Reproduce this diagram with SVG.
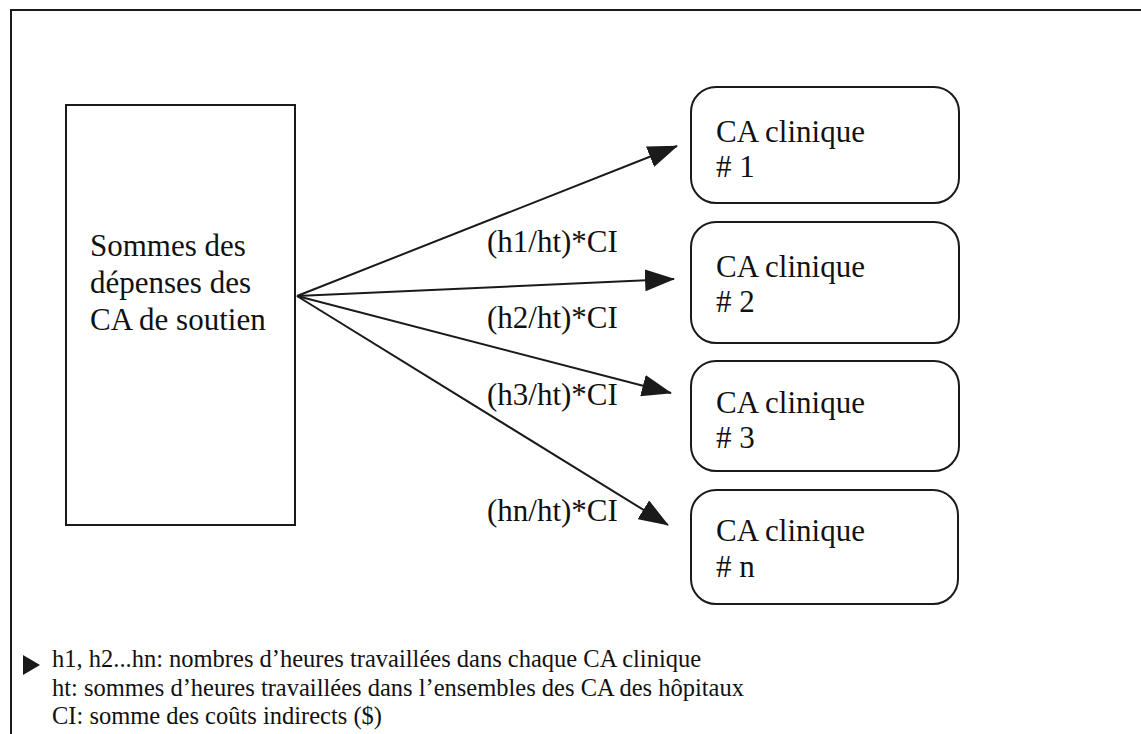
<svg xmlns="http://www.w3.org/2000/svg" width="1141" height="734" viewBox="0 0 1141 734">
  <style>
    text { font-family: "Liberation Serif", "DejaVu Serif", "Times New Roman", serif; fill: #111; }
    .big { font-size: 31px; }
    .legend { font-size: 24.5px; }
    .box { fill: #fff; stroke: #1a1a1a; stroke-width: 2; }
    .edge { fill: none; stroke: #1a1a1a; stroke-width: 2; marker-end: url(#head); }
  </style>
  <defs>
    <marker id="head" viewBox="0 0 30 22" refX="29" refY="11" markerWidth="30" markerHeight="22" markerUnits="userSpaceOnUse" orient="auto">
      <path d="M0,0 L30,11 L0,22 Z" fill="#1a1a1a"/>
    </marker>
  </defs>

  <rect width="1141" height="734" fill="#fff"/>

  <!-- page frame -->
  <path d="M11,740 V10 H1145" fill="none" stroke="#1a1a1a" stroke-width="2"/>

  <g font-family="Liberation Serif, DejaVu Serif, serif">
    <!-- source cost centre -->
    <g id="source">
      <rect class="box" x="66" y="105" width="229" height="420"/>
      <text class="big" x="90" y="256">Sommes des</text>
      <text class="big" x="90" y="293">dépenses des</text>
      <text class="big" x="90" y="330">CA de soutien</text>
    </g>

    <!-- clinical cost centres -->
    <g id="clinique1">
      <rect class="box" x="691" y="87" width="268" height="116" rx="25"/>
      <text class="big" x="716" y="142">CA clinique</text>
      <text class="big" x="716" y="177"># 1</text>
    </g>
    <g id="clinique2">
      <rect class="box" x="691" y="222" width="268" height="121" rx="25"/>
      <text class="big" x="716" y="277">CA clinique</text>
      <text class="big" x="716" y="312"># 2</text>
    </g>
    <g id="clinique3">
      <rect class="box" x="691" y="361" width="268" height="110" rx="25"/>
      <text class="big" x="716" y="413">CA clinique</text>
      <text class="big" x="716" y="448"># 3</text>
    </g>
    <g id="cliniqueN">
      <rect class="box" x="691" y="490" width="267" height="114" rx="25"/>
      <text class="big" x="716" y="541">CA clinique</text>
      <text class="big" x="716" y="577"># n</text>
    </g>

    <!-- allocation arrows -->
    <g id="connectors">
      <line class="edge" x1="297" y1="296" x2="677" y2="146"/>
      <line class="edge" x1="297" y1="296" x2="674" y2="279"/>
      <line class="edge" x1="297" y1="296" x2="671" y2="393"/>
      <line class="edge" x1="297" y1="296" x2="668" y2="525"/>
    </g>

    <!-- allocation ratios -->
    <g id="labels">
      <text class="big" x="487" y="252">(h1/ht)*CI</text>
      <text class="big" x="487" y="328">(h2/ht)*CI</text>
      <text class="big" x="487" y="405">(h3/ht)*CI</text>
      <text class="big" x="487" y="521">(hn/ht)*CI</text>
    </g>

    <!-- legend -->
    <g id="legend">
      <path d="M23,655 L40,665 L23,675 Z" fill="#1a1a1a"/>
      <text class="legend" x="52" y="667">h1, h2...hn: nombres d’heures travaillées dans chaque CA clinique</text>
      <text class="legend" x="52" y="696">ht: sommes d’heures travaillées dans l’ensembles des CA des hôpitaux</text>
      <text class="legend" x="52" y="724">CI: somme des coûts indirects ($)</text>
    </g>
  </g>
</svg>
